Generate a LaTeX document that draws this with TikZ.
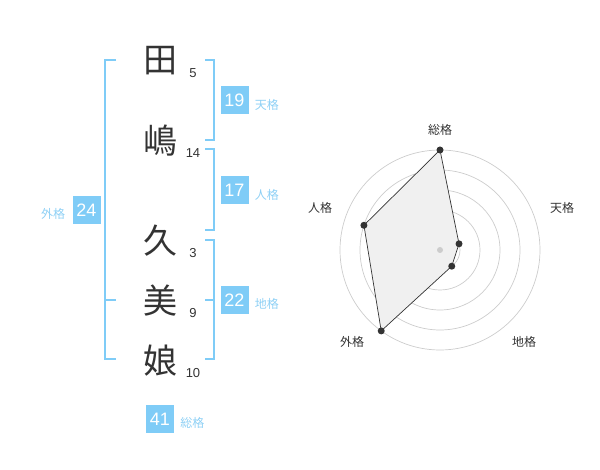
\documentclass[tikz,border=0pt]{standalone}
\usepackage{fontspec}
\setmainfont{Liberation Sans}
\newfontfamily\jpfont{Noto Sans CJK JP}
\usepackage{tikz}
\usetikzlibrary{calc}
\definecolor{ink}{HTML}{333333}
\definecolor{sky}{HTML}{7FCCF7}
\definecolor{skytext}{HTML}{8ED0F5}
\definecolor{ringgray}{HTML}{CCCCCC}
\definecolor{area}{HTML}{F0F0F0}
\tikzset{
  kanji/.style={text=ink, inner sep=0pt, font=\jpfont\fontsize{34}{34}\selectfont},
  strokes/.style={text=ink, inner sep=0pt, font=\fontsize{13}{13}\selectfont},
  gbox/.style={fill=sky, text=white, minimum size=28pt, inner sep=0pt, font=\fontsize{18}{18}\selectfont},
  glab/.style={text=skytext, inner sep=0pt, font=\jpfont\fontsize{12}{12}\selectfont},
  brk/.style={draw=sky, line width=2pt},
  gridring/.style={draw=ringgray, line width=0.7pt},
  radlab/.style={text=ink, inner sep=0pt, font=\jpfont\fontsize{12}{12}\selectfont},
  dot/.style={fill=ink}
}

\begin{document}
\begin{tikzpicture}[x=1pt, y=-1pt]
  \useasboundingbox (0,0) rectangle (600,470);

  % name column
  \foreach \ch/\y/\n [count=\i] in {田/61/5, 嶋/141/14, 久/241/3, 美/301/9, 娘/361/10} {
    \node[kanji] (k\i) at (160,\y) {\ch};
    \node[strokes] (n\i) at (193,\y+12) {\n};
  }

  % brackets
  \draw[brk] (116,60) -- (105,60) -- (105,359) -- (116,359);
  \draw[brk] (105,300) -- (116,300);
  \draw[brk] (205,60) -- (214,60) -- (214,140) -- (205,140);
  \draw[brk] (205,149) -- (214,149) -- (214,230) -- (205,230);
  \draw[brk] (205,240) -- (214,240) -- (214,359) -- (205,359);
  \draw[brk] (214,300) -- (205,300);

  \node[gbox] (ten) at (234.5,100.5) {19};
  \node[gbox] (jin) at (234.5,190.5) {17};
  \node[gbox] (chi) at (234.5,300) {22};
  \node[gbox] (gai) at (86.5,210) {24};
  \node[gbox] (sou) at (160,419) {41};
  \node[glab, anchor=west] at ([xshift=6pt, yshift=-4pt]ten.east) {天格};
  \node[glab, anchor=west] at ([xshift=6pt, yshift=-4pt]jin.east) {人格};
  \node[glab, anchor=west] at ([xshift=6pt, yshift=-4pt]chi.east) {地格};
  \node[glab, anchor=east] at ([xshift=-7pt, yshift=-4pt]gai.west) {外格};
  \node[glab, anchor=west] at ([xshift=6pt, yshift=-4pt]sou.east) {総格};

  % radar chart
  \begin{scope}[shift={(440,250)}, y=1pt]
    \coordinate (O) at (0,0);
    \foreach \r in {20,40,...,100}
      \draw[gridring] (O) circle (\r);
    \coordinate (s1) at (90:100);
    \coordinate (s2) at (18:20);
    \coordinate (s3) at (-54:20);
    \coordinate (s4) at (-126:100);
    \coordinate (s5) at (162:80);
    \fill[area] (s1) -- (s2) -- (s3) -- (s4) -- (s5) -- cycle;
    \draw[ink, line width=0.7pt] (s1) -- (s2) -- (s3) -- (s4) -- (s5) -- cycle;
    \fill[ringgray] (O) circle (3);
    \foreach \i in {1,...,5}
      \fill[dot] (s\i) circle (3.5);
    \node[radlab] (l1) at (0,120) {総格};
    \node[radlab] (l2) at (122,42) {天格};
    \node[radlab] (l3) at (84,-92) {地格};
    \node[radlab] (l4) at (-88,-92) {外格};
    \node[radlab] (l5) at (-120,42) {人格};
  \end{scope}
\end{tikzpicture}
\end{document}
